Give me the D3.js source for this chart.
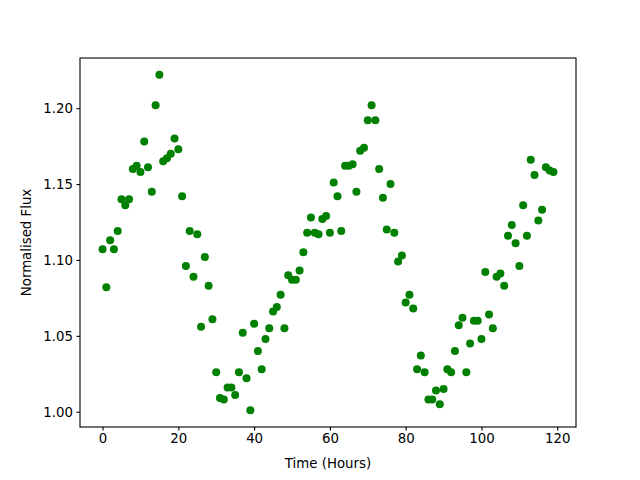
<!DOCTYPE html>
<html>
<head>
<meta charset="utf-8">
<script src="https://cdn.jsdelivr.net/npm/d3@7"></script>
<style>
html,body{margin:0;padding:0;background:#fff;}
text{font-family:"DejaVu Sans",sans-serif;}
</style>
</head>
<body>
<svg id="chart" width="640" height="480"></svg>
<script>
const hours = d3.range(0, 120);
const flux = [
1.107,1.082,1.113,1.107,1.119,1.140,1.136,1.140,1.160,1.162,
1.158,1.178,1.161,1.145,1.202,1.222,1.165,1.167,1.170,1.180,
1.173,1.142,1.096,1.119,1.089,1.117,1.056,1.102,1.083,1.061,
1.026,1.009,1.008,1.016,1.016,1.011,1.026,1.052,1.022,1.001,
1.058,1.040,1.028,1.048,1.055,1.066,1.069,1.077,1.055,1.090,
1.087,1.087,1.093,1.105,1.118,1.128,1.118,1.117,1.127,1.129,
1.118,1.151,1.142,1.119,1.162,1.162,1.163,1.145,1.172,1.174,
1.192,1.202,1.192,1.160,1.141,1.120,1.150,1.118,1.099,1.103,
1.072,1.077,1.068,1.028,1.037,1.026,1.008,1.008,1.014,1.005,
1.015,1.028,1.026,1.040,1.057,1.062,1.026,1.045,1.060,1.060,
1.048,1.092,1.064,1.055,1.089,1.091,1.083,1.116,1.123,1.111,
1.096,1.136,1.116,1.166,1.156,1.126,1.133,1.161,1.159,1.158
];
const xTicks = [0, 20, 40, 60, 80, 100, 120];
const yTicks = [1.00, 1.05, 1.10, 1.15, 1.20];
const xLabel = "Time (Hours)";
const yLabel = "Normalised Flux";

const svg = d3.select("#chart");
const L = 80, R = 576, T = 58, B = 427;

const xmin = d3.min(hours), xmax = d3.max(hours);
const xm = (xmax - xmin) * 0.05;
const ymin = d3.min(flux), ymax = d3.max(flux);
const ym = (ymax - ymin) * 0.05;

const x = d3.scaleLinear().domain([xmin - xm, xmax + xm]).range([L, R]);
const y = d3.scaleLinear().domain([ymin - ym, ymax + ym]).range([B, T]);

const fs = "13.33px";

const gx = svg.append("g").attr("transform", `translate(0,${B})`)
  .call(d3.axisBottom(x).tickValues(xTicks).tickFormat(d3.format("d")).tickSize(3.5).tickPadding(3.5).tickSizeOuter(0));
gx.select(".domain").remove();
gx.selectAll("text").style("font-size", fs).attr("fill", "#000").style("font-family", "DejaVu Sans");
gx.selectAll("line").attr("stroke", "#000").attr("stroke-width", 1.1);

const gy = svg.append("g").attr("transform", `translate(${L},0)`)
  .call(d3.axisLeft(y).tickValues(yTicks).tickFormat(d3.format(".2f")).tickSize(3.5).tickPadding(3.5).tickSizeOuter(0));
gy.select(".domain").remove();
gy.selectAll("text").style("font-size", fs).attr("fill", "#000").style("font-family", "DejaVu Sans");
gy.selectAll("line").attr("stroke", "#000").attr("stroke-width", 1.1);

svg.append("g").selectAll("circle").data(hours).join("circle")
  .attr("cx", (d) => x(d))
  .attr("cy", (d, i) => y(flux[i]))
  .attr("r", 4)
  .attr("fill", "#008000");

svg.append("rect").attr("x", L).attr("y", T).attr("width", R - L).attr("height", B - T)
  .attr("fill", "none").attr("stroke", "#000").attr("stroke-width", 1.1);

svg.append("text").attr("x", (L + R) / 2).attr("y", 468).attr("text-anchor", "middle")
  .style("font-size", fs).text(xLabel);

svg.append("text").attr("transform", `translate(31,${(T + B) / 2}) rotate(-90)`).attr("text-anchor", "middle")
  .style("font-size", fs).text(yLabel);
</script>
</body>
</html>
